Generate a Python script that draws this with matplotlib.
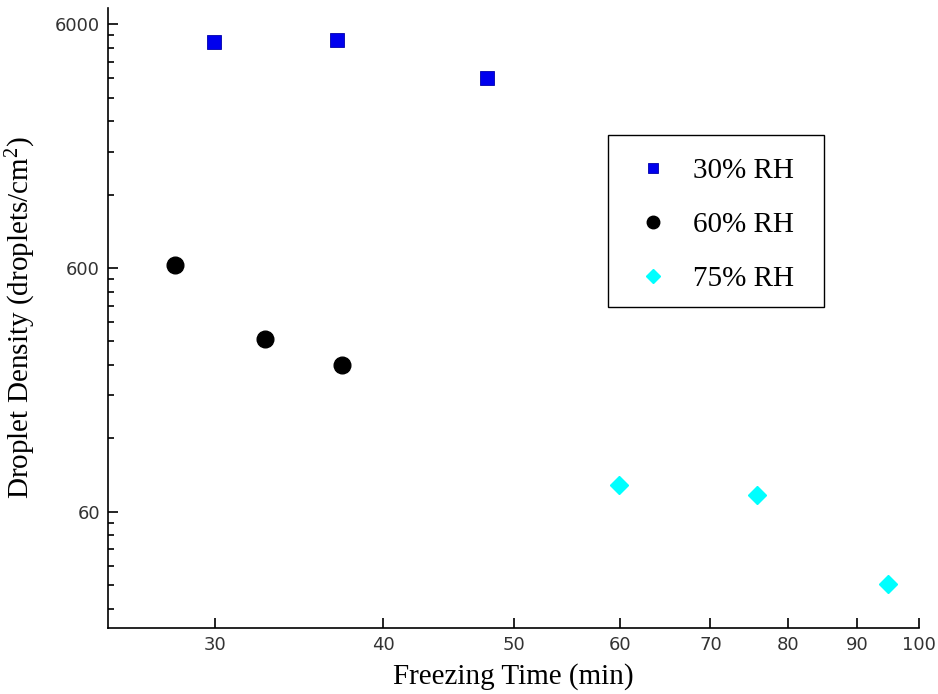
import numpy as np
import matplotlib
matplotlib.use("Agg")
import matplotlib.pyplot as plt
from matplotlib.ticker import FixedLocator, NullFormatter, FixedFormatter
from matplotlib.patches import Rectangle

plt.rcParams["mathtext.fontset"] = "custom"
plt.rcParams["mathtext.rm"] = "Liberation Serif"
plt.rcParams["mathtext.it"] = "Liberation Serif:italic"

# Data
rh30_time = [29.95, 36.95, 47.8]
rh30_density = [5065, 5170, 3600]
rh60_time = [28.0, 32.7, 37.3]
rh60_density = [618, 308, 240]
rh75_time = [59.9, 75.8, 94.9]
rh75_density = [77.3, 70.4, 30.2]

x_ticks = [30, 40, 50, 60, 70, 80, 90, 100]
x_tick_labels = ["30", "40", "50", "60", "70", "80", "90", "100"]
y_ticks = [60, 600, 6000]
y_tick_labels = ["60", "600", "6000"]

fig = plt.figure(figsize=(9.38, 6.94), dpi=100)
ax = fig.add_axes([0.1155, 0.0951, 0.9797 - 0.1155, 0.9885 - 0.0951])

ax.plot(rh30_time, rh30_density, linestyle="none", marker="s", markersize=10,
        color="#0000ee", markeredgecolor="#0000aa", markeredgewidth=0.6, label="30% RH")
ax.plot(rh60_time, rh60_density, linestyle="none", marker="o", markersize=12,
        color="black", label="60% RH")
ax.plot(rh75_time, rh75_density, linestyle="none", marker="D", markersize=9,
        color="#00ffff", label="75% RH")

ax.set_xscale("log")
ax.set_yscale("log")
ax.set_xlim(25, 100)
ax.set_ylim(20, 7000)

ax.xaxis.set_major_locator(FixedLocator(x_ticks))
ax.xaxis.set_major_formatter(FixedFormatter(x_tick_labels))
ax.xaxis.set_minor_locator(FixedLocator([]))
ax.yaxis.set_major_locator(FixedLocator(y_ticks))
ax.yaxis.set_major_formatter(FixedFormatter(y_tick_labels))
minor_y = [m * 6 * 10 ** e for e in range(0, 3) for m in range(2, 10)] + [24, 30, 36, 42, 48, 54]
ax.yaxis.set_minor_locator(FixedLocator(sorted(set(minor_y))))
ax.yaxis.set_minor_formatter(NullFormatter())

for s in ["top", "right"]:
    ax.spines[s].set_visible(False)
for s in ["left", "bottom"]:
    ax.spines[s].set_linewidth(1.2)

ax.tick_params(axis="both", which="major", direction="in", length=7, width=1.2,
               labelsize=13, labelcolor="#333333", pad=6)
ax.tick_params(axis="y", which="minor", direction="in", length=4, width=1.2)
for lab in ax.get_xticklabels() + ax.get_yticklabels():
    lab.set_family("DejaVu Sans")

ax.set_xlabel("Freezing Time (min)", family="Liberation Serif", fontsize=21, labelpad=6)
ax.set_ylabel("Droplet Density (droplets/cm$^2$)", family="Liberation Serif", fontsize=21, labelpad=12)

leg = ax.legend(loc="center left", bbox_to_anchor=(631 / 938, (694 - 225) / 694),
                bbox_transform=fig.transFigure,
                prop={"family": "Liberation Serif", "size": 21}, frameon=False,
                borderpad=0, borderaxespad=0, labelspacing=0.95, handletextpad=0.62,
                handlelength=1.5, markerscale=0.75)
fig.add_artist(Rectangle((608 / 938, (694 - 307) / 694), 216 / 938, 172 / 694,
                         transform=fig.transFigure, fill=False, edgecolor="black",
                         linewidth=1.0))

fig.savefig("out.png", dpi=100)
